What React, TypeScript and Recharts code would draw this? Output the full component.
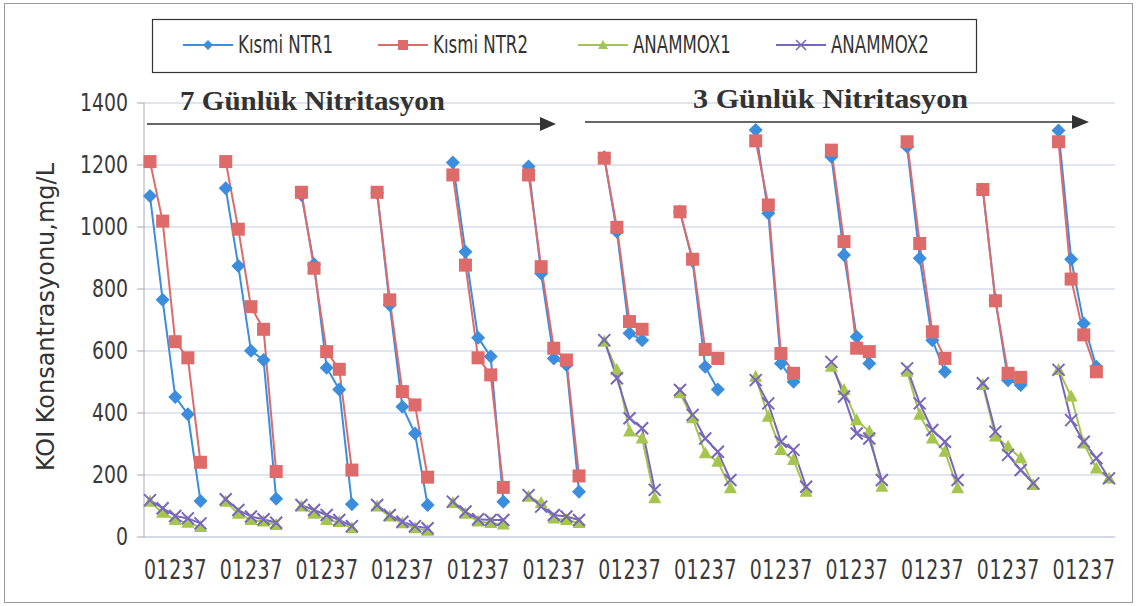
import React from 'react'
import { LineChart, Line, XAxis, YAxis, CartesianGrid } from 'recharts'

// day labels inside each run, one run per group
const days = ['0', '1', '2', '3', '7']

// KOI values (mg/L), one inner array per run of days 0,1,2,3,7
const ntr1 = [
  [1100, 765, 452, 396, 116],
  [1125, 874, 601, 571, 123],
  [1103, 880, 546, 476, 106],
  [1110, 748, 420, 334, 103],
  [1208, 920, 643, 582, 114],
  [1195, 850, 576, 555, 146],
  [1225, 985, 657, 635, null],
  [1050, 890, 549, 476, null],
  [1313, 1044, 560, 501, null],
  [1227, 910, 646, 560, null],
  [1259, 899, 635, 533, null],
  [1121, 765, 506, 490, null],
  [1311, 896, 689, 549, null],
]

const ntr2 = [
  [1211, 1019, 630, 578, 241],
  [1211, 993, 743, 670, 211],
  [1112, 867, 598, 541, 216],
  [1112, 765, 469, 426, 193],
  [1168, 877, 578, 523, 160],
  [1168, 872, 609, 571, 197],
  [1222, 999, 695, 670, null],
  [1049, 896, 605, 576, null],
  [1278, 1071, 592, 528, null],
  [1248, 953, 609, 598, null],
  [1275, 947, 662, 576, null],
  [1121, 762, 528, 515, null],
  [1275, 832, 652, 533, null],
]

const anammox1 = [
  [114, 78, 55, 46, 32],
  [114, 75, 55, 50, 39],
  [98, 75, 55, 48, 28],
  [98, 66, 44, 28, 20],
  [110, 75, 50, 45, 40],
  [130, 110, 60, 55, 45],
  [630, 539, 340, 318, 125],
  [464, 383, 270, 243, 157],
  [517, 388, 281, 248, 146],
  [549, 474, 377, 340, 162],
  [533, 394, 318, 275, 157],
  [490, 324, 291, 254, 168],
  [539, 453, 302, 221, 189],
]

const anammox2 = [
  [119, 93, 68, 60, 44],
  [122, 87, 66, 57, 46],
  [103, 87, 71, 55, 35],
  [103, 71, 49, 35, 28],
  [114, 82, 57, 55, 55],
  [135, 98, 71, 66, 55],
  [635, 512, 383, 351, 152],
  [474, 394, 318, 275, 184],
  [506, 431, 307, 281, 162],
  [565, 453, 334, 318, 184],
  [544, 431, 345, 307, 184],
  [496, 340, 265, 216, 173],
  [539, 377, 307, 254, 189],
]

const yTicks = [0, 200, 400, 600, 800, 1000, 1200, 1400]

const BLUE = '#3B8EDE'
const RED = '#DE6A6A'
const GREEN = '#A5C64E'
const PURPLE = '#7866BE'
const NARROW = '"DejaVu Sans Condensed", "Liberation Sans", sans-serif'

// flat table: 5 days per group, an empty slot between groups so the lines break
const data: any[] = []
ntr1.forEach((_, g) => {
  days.forEach((d, i) => {
    data.push({
      idx: data.length,
      label: d,
      ntr1: ntr1[g][i],
      ntr2: ntr2[g][i],
      an1: anammox1[g][i],
      an2: anammox2[g][i],
    })
  })
  if (g < ntr1.length - 1) {
    data.push({ idx: data.length, label: '', ntr1: null, ntr2: null, an1: null, an2: null })
  }
})

const hasPoint = (p: any) => p && p.value != null && p.cx != null && p.cy != null

const diamondDot = (p: any) => {
  if (!hasPoint(p)) return <g key={`d${p.index}`} />
  const { cx, cy } = p
  return (
    <polygon key={`d${p.index}`} points={`${cx},${cy - 7} ${cx + 7},${cy} ${cx},${cy + 7} ${cx - 7},${cy}`} fill={BLUE} />
  )
}

const squareDot = (p: any) => {
  if (!hasPoint(p)) return <g key={`s${p.index}`} />
  return <rect key={`s${p.index}`} x={p.cx - 6.5} y={p.cy - 6.5} width={13} height={13} fill={RED} />
}

const triangleDot = (p: any) => {
  if (!hasPoint(p)) return <g key={`t${p.index}`} />
  const { cx, cy } = p
  return <polygon key={`t${p.index}`} points={`${cx},${cy - 7} ${cx + 6.5},${cy + 5} ${cx - 6.5},${cy + 5}`} fill={GREEN} />
}

const crossDot = (p: any) => {
  if (!hasPoint(p)) return <g key={`x${p.index}`} />
  const { cx, cy } = p
  return (
    <path key={`x${p.index}`} d={`M${cx - 6},${cy - 6}L${cx + 6},${cy + 6}M${cx - 6},${cy + 6}L${cx + 6},${cy - 6}`} stroke={PURPLE} strokeWidth={2} fill="none" />
  )
}

// narrow, tall digits like the original axis font
const DayTick = (props: any) => {
  const { x, y, payload } = props
  const label = data[payload.value]?.label ?? ''
  if (!label) return <g />
  return (
    <text
      transform={`translate(${x},${y + 34}) scale(1,1.3)`}
      textAnchor="middle"
      fontFamily={NARROW}
      fontSize={21}
      fill="#3a3a3a"
    >
      {label}
    </text>
  )
}

const YTick = (props: any) => {
  const { x, y, payload } = props
  return (
    <text
      transform={`translate(${x - 7},${y + 8}) scale(1,1.2)`}
      textAnchor="end"
      fontFamily={NARROW}
      fontSize={21}
      fill="#3a3a3a"
    >
      {payload.value}
    </text>
  )
}

const legendItems = [
  { name: 'Kısmi NTR1', color: BLUE, x: 183, icon: 'diamond' },
  { name: 'Kısmi NTR2', color: RED, x: 378, icon: 'square' },
  { name: 'ANAMMOX1', color: GREEN, x: 578, icon: 'triangle' },
  { name: 'ANAMMOX2', color: PURPLE, x: 776, icon: 'cross' },
]

function LegendIcon({ icon, color }: { icon: string; color: string }) {
  return (
    <svg width={50} height={16} style={{ display: 'block' }}>
      <line x1={0} y1={8} x2={50} y2={8} stroke={color} strokeWidth={2} />
      {icon === 'diamond' && <polygon points="25,3 30,8 25,13 20,8" fill={color} />}
      {icon === 'square' && <rect x={20} y={3} width={10} height={10} fill={color} />}
      {icon === 'triangle' && <polygon points="25,3 30,12 20,12" fill={color} />}
      {icon === 'cross' && <path d="M20,3L30,13M20,13L30,3" stroke={color} strokeWidth={1.5} />}
    </svg>
  )
}

export default function App() {
  return (
    <div style={{ position: 'absolute', left: 0, top: 0, width: 1137, height: 606, background: '#fff' }}>
      <LineChart width={1137} height={606} data={data} margin={{ top: 103, right: 22, left: 84, bottom: 39 }}>
        <CartesianGrid vertical={false} stroke="#C3CBE0" />
        <XAxis
          dataKey="idx"
          type="category"
          interval={0}
          padding={{ left: 6, right: 6 }}
          tickLine={false}
          axisLine={{ stroke: '#C3CBE0' }}
          height={30}
          tick={<DayTick />}
        />
        <YAxis
          domain={[0, 1400]}
          ticks={yTicks}
          width={60}
          tickSize={7}
          axisLine={{ stroke: '#A8A8B8' }}
          tickLine={{ stroke: '#A8A8B8' }}
          tick={<YTick />}
        />
        <Line dataKey="ntr1" stroke={BLUE} strokeWidth={2} dot={diamondDot} isAnimationActive={false} />
        <Line dataKey="ntr2" stroke={RED} strokeWidth={2} dot={squareDot} isAnimationActive={false} />
        <Line dataKey="an1" stroke={GREEN} strokeWidth={2} dot={triangleDot} isAnimationActive={false} />
        <Line dataKey="an2" stroke={PURPLE} strokeWidth={2} dot={crossDot} isAnimationActive={false} />
      </LineChart>

      <svg width={1137} height={606} style={{ position: 'absolute', left: 0, top: 0, pointerEvents: 'none' }}>
        <rect x={4.5} y={3.5} width={1128} height={599} fill="none" stroke="#9A9A9A" strokeWidth={1} />
        <rect x={152.5} y={19.5} width={824} height={53} fill="none" stroke="#333" strokeWidth={1.2} />
        <text
          x={0}
          y={0}
          transform="translate(54,317) rotate(-90)"
          textAnchor="middle"
          fontFamily={NARROW}
          fontSize={24}
          fill="#333"
          textLength={308}
          lengthAdjust="spacingAndGlyphs"
        >
          KOI Konsantrasyonu,mg/L
        </text>
        <text x={180} y={110} fontFamily='"Liberation Serif", serif' fontWeight="bold" fontSize={28} fill="#333" textLength={265} lengthAdjust="spacingAndGlyphs">
          7 Günlük Nitritasyon
        </text>
        <text x={693} y={108} fontFamily='"Liberation Serif", serif' fontWeight="bold" fontSize={28} fill="#333" textLength={275} lengthAdjust="spacingAndGlyphs">
          3 Günlük Nitritasyon
        </text>
        <line x1={147} y1={124} x2={542} y2={124} stroke="#333" strokeWidth={1.5} />
        <polygon points="540,117 556,124 540,131" fill="#333" />
        <line x1={585} y1={122} x2={1074} y2={122} stroke="#333" strokeWidth={1.5} />
        <polygon points="1072,115 1089,122 1072,129" fill="#333" />
      </svg>

      {legendItems.map((it) => (
        <div
          key={it.name}
          style={{
            position: 'absolute',
            left: it.x,
            top: 33,
            display: 'flex',
            alignItems: 'center',
            gap: 5,
            fontFamily: NARROW,
            fontSize: 21,
            color: '#333',
            lineHeight: '24px',
          }}
        >
          <LegendIcon icon={it.icon} color={it.color} />
          <span style={{ display: 'inline-block', transform: 'scale(0.88, 1.15)', transformOrigin: 'left center' }}>{it.name}</span>
        </div>
      ))}
    </div>
  )
}
